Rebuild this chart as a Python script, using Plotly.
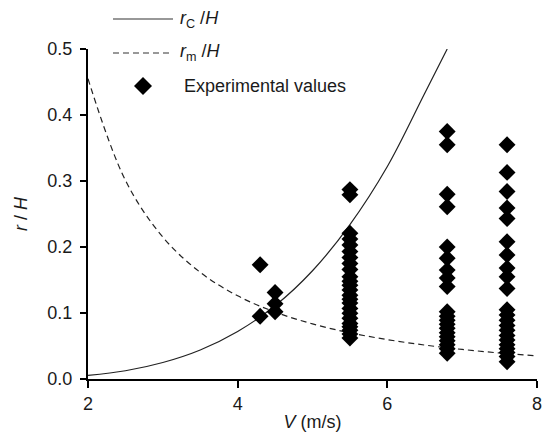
import plotly.graph_objects as go

# ---- data ----
# theoretical curve r_C/H (solid)
rc_v = [2.0, 2.5, 3.0, 3.5, 4.0, 4.5, 5.0, 5.5, 6.0, 6.5, 6.8]
rc_r = [0.0055, 0.0125, 0.025, 0.044, 0.072, 0.111, 0.164, 0.234, 0.322, 0.433, 0.50]
# theoretical curve r_m/H (dashed)
rm_v = [2.0, 2.5, 3.0, 3.5, 4.0, 4.5, 5.0, 5.5, 6.0, 6.5, 7.0, 7.5, 8.0]
rm_r = [0.455, 0.301, 0.215, 0.1616, 0.126, 0.1015, 0.0835, 0.070, 0.0597, 0.0514, 0.0448, 0.0394, 0.035]
# experimental values, grouped by velocity
exp_v43 = [0.173, 0.095]
exp_v45 = [0.131, 0.114, 0.102]
exp_v55 = [0.287, 0.279, 0.221, 0.212, 0.203, 0.193, 0.184, 0.175, 0.166, 0.155, 0.148,
           0.142, 0.135, 0.127, 0.121, 0.115, 0.107, 0.0995, 0.092, 0.084, 0.079, 0.074,
           0.068, 0.062]
exp_v68 = [0.375, 0.355, 0.280, 0.261, 0.200, 0.183, 0.165, 0.153, 0.140, 0.102, 0.095,
           0.089, 0.083, 0.077, 0.070, 0.064, 0.058, 0.052, 0.046, 0.039]
exp_v76 = [0.355, 0.313, 0.284, 0.259, 0.243, 0.208, 0.188, 0.168, 0.155, 0.137, 0.105,
           0.097, 0.089, 0.081, 0.074, 0.066, 0.059, 0.052, 0.046, 0.040, 0.034, 0.026]
exp_groups = [(4.3, exp_v43), (4.5, exp_v45), (5.5, exp_v55), (6.8, exp_v68), (7.6, exp_v76)]

x_ticks = [2, 4, 6, 8]
y_ticks = [0.0, 0.1, 0.2, 0.3, 0.4, 0.5]

legend_rc = "<i>r</i><sub>C</sub> /<i>H</i>"
legend_rm = "<i>r</i><sub>m</sub> /<i>H</i>"
legend_exp = "Experimental values"

FONT = "Liberation Sans, Arial, sans-serif"
TXT = "#1a1a1a"

fig = go.Figure()

fig.add_trace(go.Scatter(x=rc_v, y=rc_r, mode="lines", line=dict(color="#222", width=1.2, shape="spline"),
                         showlegend=False, name="rc"))
fig.add_trace(go.Scatter(x=rm_v, y=rm_r, mode="lines",
                         line=dict(color="#222", width=1.2, dash="6px,4px", shape="spline"),
                         showlegend=False, name="rm"))

ex_x, ex_y = [], []
for v, vals in exp_groups:
    ex_x += [v] * len(vals)
    ex_y += vals
fig.add_trace(go.Scatter(x=ex_x, y=ex_y, mode="markers",
                         marker=dict(symbol="diamond", size=13, color="black"),
                         showlegend=False, name="exp"))

# ---- manual legend (paper coordinates) ----
L, R, T, B = 88, 11, 49, 53
W, H = 548 - L - R, 432 - T - B
def px(x):
    return (x - L) / W
def py(y):
    return (432 - B - y) / H

shapes = [
    dict(type="line", xref="paper", yref="paper", x0=px(113), x1=px(173), y0=py(19), y1=py(19),
         line=dict(color="#333", width=1.2)),
    dict(type="line", xref="paper", yref="paper", x0=px(113), x1=px(173), y0=py(53), y1=py(53),
         line=dict(color="#333", width=1.2, dash="6px,4px")),
    dict(type="path", xref="paper", yref="paper", xsizemode="pixel", ysizemode="pixel",
         xanchor=px(143), yanchor=py(86), path="M0,9 L9,0 L0,-9 L-9,0 Z",
         fillcolor="black", line=dict(width=0)),
]
annotations = [
    dict(text=legend_rc, xref="paper", yref="paper", x=px(178), y=py(19), xanchor="left",
         yanchor="middle", showarrow=False, font=dict(size=18, family=FONT, color=TXT)),
    dict(text=legend_rm, xref="paper", yref="paper", x=px(178), y=py(53), xanchor="left",
         yanchor="middle", showarrow=False, font=dict(size=18, family=FONT, color=TXT)),
    dict(text=legend_exp, xref="paper", yref="paper", x=px(182), y=py(86), xanchor="left",
         yanchor="middle", showarrow=False, font=dict(size=18, family=FONT, color=TXT)),
]

fig.update_layout(
    width=548, height=432,
    margin=dict(l=L, r=R, t=T, b=B, autoexpand=False),
    paper_bgcolor="white", plot_bgcolor="white",
    font=dict(family=FONT, size=18, color=TXT),
    shapes=shapes, annotations=annotations,
    showlegend=False,
)
fig.update_xaxes(range=[2, 8], tickvals=x_ticks, showgrid=False, zeroline=False, automargin=False,
                 showline=True, linecolor="black", linewidth=2, ticks="outside",
                 ticklen=7, tickwidth=2, tickcolor="black", tickfont=dict(size=18),
                 title=dict(text="<i>V</i> (m/s)", standoff=3, font=dict(size=18)))
fig.update_yaxes(range=[0, 0.5], tickvals=y_ticks, tickformat=".1f", showgrid=False, zeroline=False,
                 automargin=False,
                 showline=True, linecolor="black", linewidth=2, ticks="outside",
                 ticklen=6, tickwidth=2, tickcolor="black", tickfont=dict(size=18),
                 ticklabelstandoff=4,
                 title=dict(text="<i>r</i> / <i>H</i>", standoff=15, font=dict(size=18)))

fig.write_html("out.html")
